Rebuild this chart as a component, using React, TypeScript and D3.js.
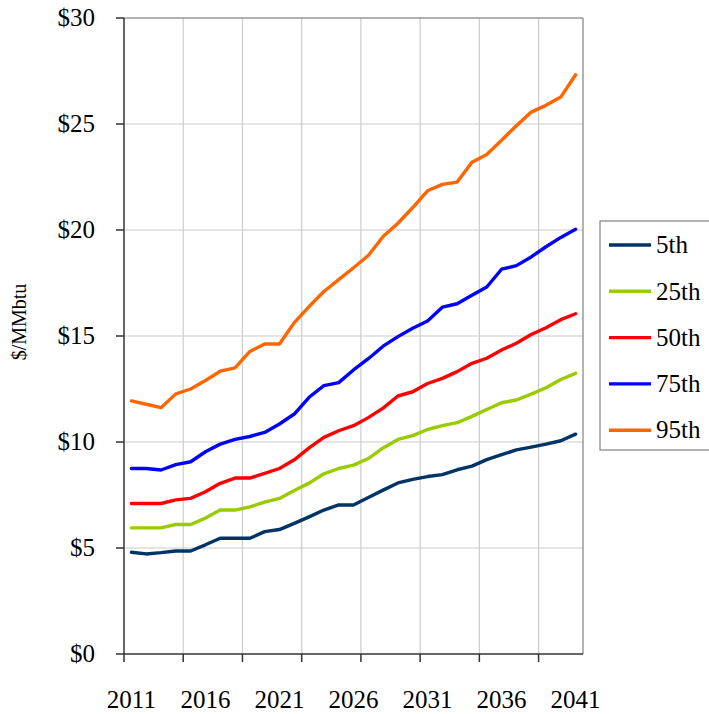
import * as d3 from "d3";

// years on the category axis
const years = d3.range(2011, 2042).map(String);

// percentile series, $/MMbtu
const p5 = [4.8, 4.72, 4.78, 4.86, 4.86, 5.15, 5.46, 5.46, 5.46, 5.77, 5.87, 6.16, 6.47, 6.79, 7.03, 7.03, 7.38, 7.73, 8.07, 8.24, 8.37, 8.46, 8.69, 8.86, 9.17, 9.4, 9.63, 9.76, 9.9, 10.06, 10.37];
const p25 = [5.95, 5.95, 5.95, 6.11, 6.11, 6.41, 6.79, 6.79, 6.94, 7.16, 7.34, 7.71, 8.06, 8.5, 8.75, 8.91, 9.22, 9.72, 10.12, 10.3, 10.59, 10.77, 10.91, 11.21, 11.53, 11.85, 11.98, 12.26, 12.56, 12.95, 13.24];
const p50 = [7.1, 7.1, 7.1, 7.27, 7.34, 7.65, 8.05, 8.3, 8.3, 8.52, 8.75, 9.16, 9.72, 10.22, 10.53, 10.77, 11.15, 11.6, 12.17, 12.37, 12.76, 13.0, 13.32, 13.71, 13.95, 14.34, 14.66, 15.07, 15.39, 15.77, 16.05];
const p75 = [8.75, 8.75, 8.68, 8.93, 9.07, 9.54, 9.9, 10.12, 10.26, 10.45, 10.85, 11.32, 12.11, 12.66, 12.8, 13.4, 13.93, 14.52, 14.97, 15.37, 15.71, 16.36, 16.52, 16.92, 17.31, 18.15, 18.32, 18.73, 19.21, 19.65, 20.03];
const p95 = [11.94, 11.78, 11.62, 12.27, 12.5, 12.9, 13.34, 13.5, 14.27, 14.62, 14.62, 15.63, 16.39, 17.1, 17.66, 18.22, 18.8, 19.69, 20.32, 21.06, 21.85, 22.15, 22.26, 23.2, 23.56, 24.23, 24.92, 25.56, 25.88, 26.27, 27.32];

const seriesNames = ["5th", "25th", "50th", "75th", "95th"];
const seriesColors = ["#003366", "#99cc00", "#ff0000", "#0000ff", "#ff6600"];
const seriesValues = [p5, p25, p50, p75, p95];

const yTicks = [0, 5, 10, 15, 20, 25, 30];
const xLabelYears = ["2011", "2016", "2021", "2026", "2031", "2036", "2041"];

const width = 709;
const height = 714;
const plot = { left: 124, right: 583, top: 18, bottom: 654 };
const font = '"Liberation Serif", serif';

export default function App() {
  const x = d3.scaleBand<string>().domain(years).range([plot.left, plot.right]).padding(0);
  const y = d3.scaleLinear().domain([0, 30]).range([plot.bottom, plot.top]);
  const bw = x.bandwidth();
  const cx = (yr: string) => (x(yr) ?? 0) + bw / 2;

  const line = d3
    .line<number>()
    .x((_, i) => cx(years[i]))
    .y((d) => y(d));

  // tick marks sit on category boundaries, every 4 categories
  const tickIdx = d3.range(0, years.length, 4);

  return (
    <svg
      width={width}
      height={height}
      style={{ position: "absolute", left: 0, top: 0, background: "#fff" }}
      fontFamily={font}
    >
      {/* gridlines */}
      {yTicks.slice(1).map((t) => (
        <line key={"gy" + t} x1={plot.left} x2={plot.right} y1={y(t)} y2={y(t)} stroke="#cccccc" strokeWidth={1.2} />
      ))}
      {tickIdx.slice(1).map((i) => (
        <line key={"gx" + i} x1={x(years[i])} x2={x(years[i])} y1={plot.top} y2={plot.bottom} stroke="#cccccc" strokeWidth={1.2} />
      ))}
      {/* plot border top/right */}
      <line x1={plot.left} x2={plot.right} y1={plot.top} y2={plot.top} stroke="#808080" strokeWidth={1.2} />
      <line x1={plot.right} x2={plot.right} y1={plot.top} y2={plot.bottom} stroke="#808080" strokeWidth={1.2} />

      {/* series */}
      {seriesValues.map((vals, k) => (
        <path
          key={seriesNames[k]}
          d={line(vals) ?? ""}
          fill="none"
          stroke={seriesColors[k]}
          strokeWidth={3.4}
          strokeLinejoin="round"
          strokeLinecap="round"
        />
      ))}

      {/* axes */}
      <line x1={plot.left} x2={plot.left} y1={plot.top} y2={plot.bottom} stroke="#333" strokeWidth={1.5} />
      <line x1={plot.left} x2={plot.right} y1={plot.bottom} y2={plot.bottom} stroke="#333" strokeWidth={1.5} />
      {yTicks.map((t) => (
        <g key={"yt" + t}>
          <line x1={plot.left - 8} x2={plot.left} y1={y(t)} y2={y(t)} stroke="#333" strokeWidth={1.5} />
          <text x={95} y={y(t)} dy="0.33em" textAnchor="end" fontSize={25} fill="#000">
            {"$" + t}
          </text>
        </g>
      ))}
      {tickIdx.map((i) => (
        <line key={"xt" + i} x1={x(years[i])} x2={x(years[i])} y1={plot.bottom} y2={plot.bottom + 8} stroke="#333" strokeWidth={1.5} />
      ))}
      {xLabelYears.map((yr) => (
        <text key={"xl" + yr} x={cx(yr)} y={708} textAnchor="middle" fontSize={25} fill="#000">
          {yr}
        </text>
      ))}

      {/* y axis title */}
      <text transform="translate(26,322) rotate(-90)" textAnchor="middle" fontSize={20} fill="#000">
        $/MMbtu
      </text>

      {/* legend */}
      <rect x={600} y={221} width={120} height={229} fill="#fff" stroke="#808080" strokeWidth={1.2} />
      {seriesNames.map((name, k) => {
        const ly = 245 + k * 46.3;
        return (
          <g key={"lg" + name}>
            <line x1={609} x2={651} y1={ly} y2={ly} stroke={seriesColors[k]} strokeWidth={3.4} />
            <text x={656} y={ly} dy="0.33em" fontSize={25} fill="#000">
              {name}
            </text>
          </g>
        );
      })}
    </svg>
  );
}
